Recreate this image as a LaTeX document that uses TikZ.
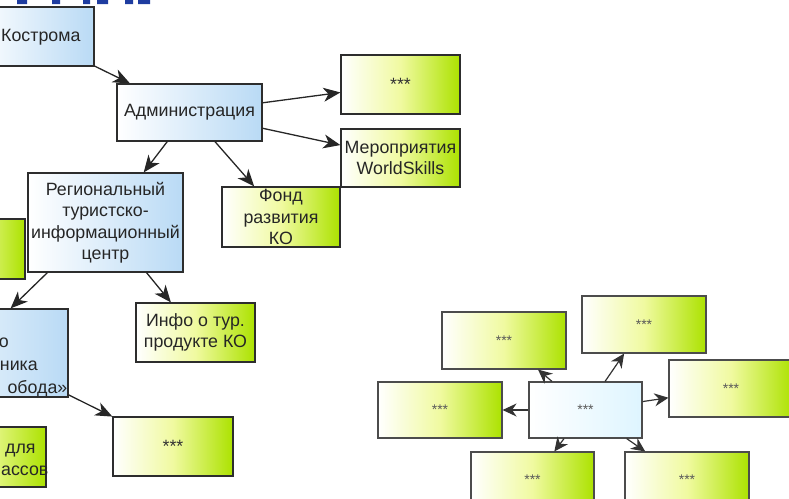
\documentclass[tikz,border=0pt]{standalone}
\usepackage{fontspec}
\setmainfont{Liberation Sans}
\usetikzlibrary{arrows.meta}
\definecolor{gdark}{RGB}{172,226,0}
\definecolor{gmid}{RGB}{240,250,160}
\definecolor{bblue}{RGB}{185,218,245}
\definecolor{cyanl}{RGB}{222,245,255}
\definecolor{edgec}{RGB}{45,45,45}
\definecolor{titleblue}{RGB}{30,60,160}
\tikzset{
  box/.style={draw=edgec, line width=1.2pt, rectangle, inner sep=0pt, align=center,
    font=\fontsize{17.8}{21.5}\selectfont, text=black!85},
  gbox/.style={box, left color=white, right color=gdark, middle color=gmid},
  bbox/.style={box, left color=white, right color=bblue},
  cbox/.style={draw=edgec!85, line width=1.1pt, rectangle, inner sep=0pt,
    left color=white, right color=cyanl, font=\fontsize{14}{14}\selectfont, text=black!65},
  cgbox/.style={cbox, left color=white, right color=gdark, middle color=gmid},
  txt/.style={inner sep=0pt, font=\fontsize{17.8}{21.5}\selectfont, text=black!85},
  arr/.style={draw=black!85, line width=1.3pt, -{Stealth[length=17pt,width=14pt,inset=5pt]}},
  carr/.style={draw=black!80, line width=1.2pt, -{Stealth[length=14pt,width=13pt,inset=4.5pt]}},
}
\begin{document}
\begin{tikzpicture}[x=1pt,y=-1pt]
\useasboundingbox (0,0) rectangle (789,498);
\clip (0,0) rectangle (789,498);
% cut-off title remnants
\fill[titleblue] (17,0) rectangle (27,4) (52,0) rectangle (60,4) (83,0) rectangle (90,4)
  (97,0) rectangle (108,4) (125,0) rectangle (133,4) (138,0) rectangle (150,4);

% upper tree
\node[bbox, minimum width=120pt, minimum height=59pt] (kos) at (34,36.5) {};
\node[txt, anchor=west] (kostxt) at (1,37) {Кострома};
\node[bbox, minimum width=145pt, minimum height=57pt] (adm) at (189.5,112.5) {Администрация};
\node[gbox, minimum width=119pt, minimum height=59pt, text=black!80] (st1) at (400.5,84.5) {***};
\node[gbox, minimum width=118pt, minimum height=60pt] (fond) at (281,217) {Фонд\\развития\\КО};
\node[gbox, minimum width=119pt, minimum height=58pt] (ws) at (400.5,158) {Мероприятия\\WorldSkills};
\node[bbox, minimum width=155pt, minimum height=99pt] (reg) at (105.5,222.5) {Региональный\\туристско-\\информационный\\центр};
\node[gbox, minimum width=105pt, minimum height=60pt] (gl) at (-27.5,249) {};
\node[gbox, minimum width=119pt, minimum height=59pt] (info) at (195.5,332.5) {Инфо о тур.\\продукте КО};
\node[bbox, minimum width=168pt, minimum height=88pt] (bl) at (-16,353) {};
\node[txt, anchor=base east] (bl1) at (9,347) {о};
\node[txt, anchor=base east] (bl2) at (38,370) {ника};
\node[txt, anchor=base east] (bl3) at (67.5,393) {обода»};
\node[gbox, minimum width=126pt, minimum height=60pt] (gbl) at (-17,457) {};
\node[txt, anchor=base west] (gbl1) at (5,453) {для};
\node[txt, anchor=base west] (gbl2) at (1,475) {ассов};
\node[gbox, minimum width=120pt, minimum height=59pt, text=black!80] (st2) at (173,446.5) {***};

\draw[arr] (kos) -- (adm);
\draw[arr] (adm) -- (st1);
\draw[arr] (adm) -- (ws);
\draw[arr] (adm) -- (fond);
\draw[arr] (adm) -- (reg);
\draw[arr] ([xshift=20pt]reg.south west) -- ([xshift=-58pt]bl.north east);
\draw[arr] (reg) -- (info);
\draw[arr] (bl) -- (st2);

% lower right cluster
\node[cbox, minimum width=113pt, minimum height=56pt] (c) at (585.5,410) {***};
\node[cgbox, minimum width=124pt, minimum height=57pt] (ctl) at (504,340.5) {***};
\node[cgbox, minimum width=124pt, minimum height=57pt] (ct) at (644,324.5) {***};
\node[cgbox, minimum width=124pt, minimum height=57pt] (cr) at (731,388.5) {***};
\node[cgbox, minimum width=124pt, minimum height=56pt] (cl) at (440,410) {***};
\node[cgbox, minimum width=123pt, minimum height=57pt, text height=8pt] (cbl) at (532.5,480.5) {***};
\node[cgbox, minimum width=124pt, minimum height=57pt, text height=8pt] (cbr) at (687,480.5) {***};

\draw[carr] (c) -- (ctl);
\draw[carr] (c) -- (ct);
\draw[carr] (c) -- (cr);
\draw[carr] (c) -- (cl);
\draw[carr] (c) -- (cbl);
\draw[carr] (c) -- (cbr);
\end{tikzpicture}
\end{document}
